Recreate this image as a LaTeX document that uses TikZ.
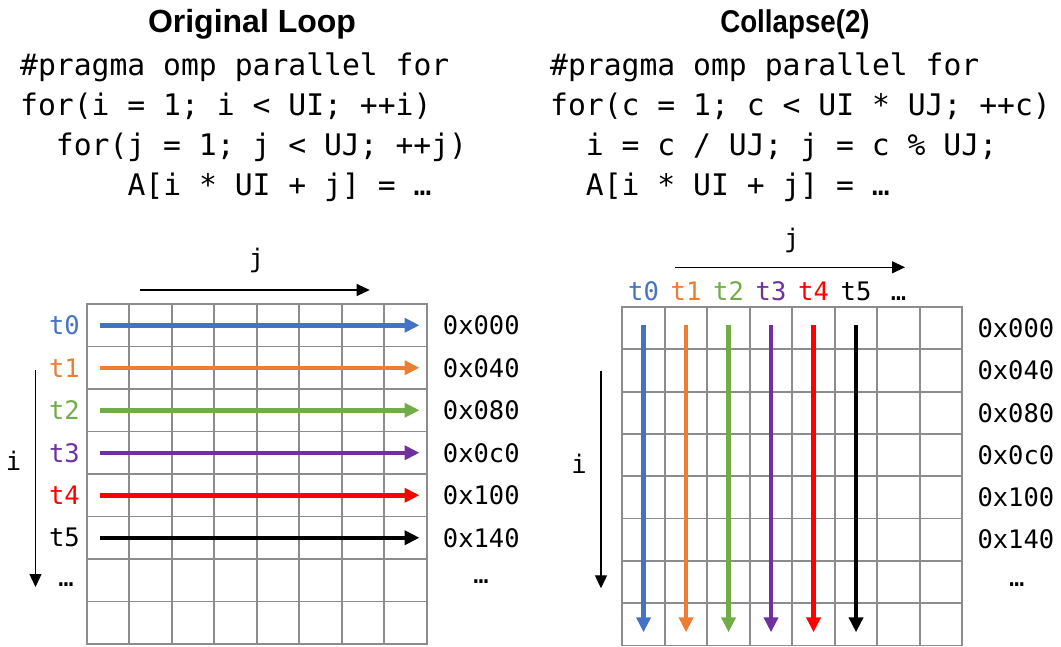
\documentclass[tikz,border=0pt]{standalone}
\usepackage{fontspec}
\setmainfont{Liberation Sans}
\newfontfamily\codefont{DejaVu Sans Mono}
\usetikzlibrary{arrows.meta}
\definecolor{tblue}{HTML}{4472C4}
\definecolor{torange}{HTML}{ED7D31}
\definecolor{tgreen}{HTML}{70AD47}
\definecolor{tpurple}{HTML}{7030A0}
\definecolor{tred}{HTML}{FF0000}
\definecolor{tblack}{HTML}{000000}
\definecolor{gridgray}{RGB}{140,140,140}
\begin{document}
\begin{tikzpicture}[x=1pt,y=-1pt,
  title/.style={inner sep=0, anchor=base, font=\bfseries\fontsize{#1}{#1}\selectfont},
  code/.style={inner sep=0, anchor=base west, font=\codefont\fontsize{29.7}{30}\selectfont},
  lbl/.style={inner sep=0, font=\codefont\fontsize{25.5}{26}\selectfont},
  thread/.style={line width=4.5pt, -{Triangle[length=15pt,width=14pt]}},
  axisarrow/.style={line width=1.2pt, -{Triangle[length=13pt,width=12pt]}},
  gridline/.style={draw=gridgray, line width=1.8pt, line cap=rect}]
\useasboundingbox (0,0) rectangle (1061,646);

% titles
\node[title=32] (t1title) at (252,32.5) {Original Loop};
\node[title=31.5] (t2title) at (795,32.5) {\scalebox{0.88}[1]{Collapse(2)}};

% code left
\node[code] (lc1) at (20,75) {\#pragma omp parallel for};
\node[code] (lc2) at (20,115) {for(i = 1; i < UI; ++i)};
\node[code] (lc3) at (55.7,155) {for(j = 1; j < UJ; ++j)};
\node[code] (lc4) at (127.3,195) {A[i * UI + j] = …};

% code right
\node[code] (rc1) at (550,75) {\#pragma omp parallel for};
\node[code] (rc2) at (550,115) {for(c = 1; c < UI * UJ; ++c)};
\node[code] (rc3) at (585.7,155) {i = c / UJ; j = c \% UJ;};
\node[code] (rc4) at (585.7,195) {A[i * UI + j] = …};

% left grid
\foreach \k in {0,...,8} {
  \draw[gridline] ({86.8+42.5*\k},304) -- ({86.8+42.5*\k},644);
  \draw[gridline] (86.8,{304+42.5*\k}) -- (426.8,{304+42.5*\k});
}
% right grid
\foreach \k in {0,...,8} {
  \draw[gridline] ({622.3+42.5*\k},307) -- ({622.3+42.5*\k},645.4);
  \draw[gridline] (622.3,{307+42.3*\k}) -- (962.3,{307+42.3*\k});
}

% left axes
\node[lbl, anchor=base] (lj) at (256.6,267.5) {j};
\coordinate (ljs) at (140,290);
\coordinate (lje) at (369.7,290);
\draw[axisarrow] (ljs) -- (lje);
\node[lbl, anchor=base] (li) at (13.5,470) {i};
\coordinate (lis) at (35.5,370);
\coordinate (lie) at (35.5,587);
\draw[axisarrow] (lis) -- (lie);
\node[lbl, anchor=base] (ldots) at (66,586) {…};
\node[lbl, anchor=base] (laddots) at (481,583) {…};

% left threads
\foreach \k/\c/\a in {0/tblue/0x000,1/torange/0x040,2/tgreen/0x080,3/tpurple/0x0c0,4/tred/0x100,5/tblack/0x140} {
  \node[lbl, anchor=east, text=\c] (lt\k) at (80,{325.25+42.5*\k}) {t\k};
  \node[lbl, anchor=west] (la\k) at (442.7,{325.25+42.5*\k}) {\a};
  \coordinate (ls\k) at (100,{325.25+42.5*\k});
  \coordinate (le\k) at (419.5,{325.25+42.5*\k});
  \draw[thread, draw=\c, fill=\c] (ls\k) -- (le\k);
}

% right axes
\node[lbl, anchor=base] (rj) at (791.7,247.5) {j};
\coordinate (rjs) at (675,267.3);
\coordinate (rje) at (905,267.3);
\draw[axisarrow] (rjs) -- (rje);
\node[lbl, anchor=base] (ri) at (579,473) {i};
\coordinate (ris) at (601,371);
\coordinate (rie) at (601,588.3);
\draw[axisarrow] (ris) -- (rie);
\node[lbl, anchor=base] (rtdots) at (898.5,300) {…};
\node[lbl, anchor=base] (raddots) at (1016.7,586) {…};

% right threads
\foreach \k/\c in {0/tblue,1/torange,2/tgreen,3/tpurple,4/tred,5/tblack} {
  \node[lbl, anchor=base, text=\c] (rt\k) at ({643.55+42.5*\k},300) {t\k};
  \coordinate (rs\k) at ({643.55+42.5*\k},325);
  \coordinate (re\k) at ({643.55+42.5*\k},632.3);
  \draw[thread, draw=\c, fill=\c] (rs\k) -- (re\k);
}
\foreach \k/\a in {0/0x000,1/0x040,2/0x080,3/0x0c0,4/0x100,5/0x140} {
  \node[lbl, anchor=west] (ra\k) at (977.3,{328.15+42.3*\k}) {\a};
}
\end{tikzpicture}
\end{document}
